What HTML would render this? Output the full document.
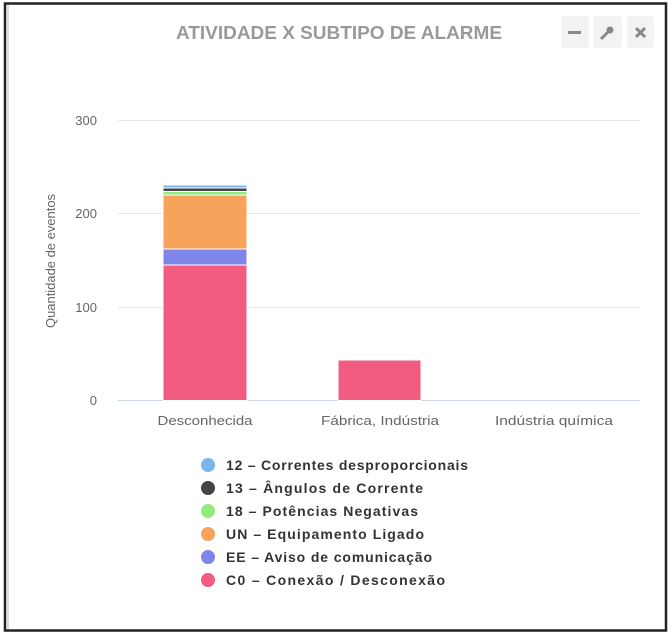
<!DOCTYPE html>
<html><head><meta charset="utf-8"><style>
html,body{margin:0;padding:0;background:#fff;}
svg{display:block;font-family:"Liberation Sans",sans-serif;}
</style></head><body>
<svg width="672" height="636" viewBox="0 0 672 636">
<rect x="0" y="0" width="672" height="636" fill="#fff"/>
<rect x="5" y="3.5" width="661" height="627" fill="none" stroke="#222" stroke-width="2.5"/>
<line x1="8" y1="5" x2="8" y2="629" stroke="#ddd" stroke-width="2"/>
<text x="339" y="39" text-anchor="middle" font-size="18" font-weight="bold" fill="#999" textLength="326" lengthAdjust="spacingAndGlyphs">ATIVIDADE X SUBTIPO DE ALARME</text>
<rect x="561" y="16" width="28" height="32" rx="2" fill="#f3f3f3"/>
<rect x="593" y="16" width="29" height="32" rx="2" fill="#f3f3f3"/>
<rect x="627" y="16" width="27" height="32" rx="2" fill="#f3f3f3"/>
<rect x="568" y="31" width="13" height="3" fill="#888"/>
<path d="M601 39 L608 32" stroke="#888" stroke-width="3"/>
<circle cx="610" cy="30" r="3.5" fill="#888"/>
<path d="M636 28 L645 37 M645 28 L636 37" stroke="#888" stroke-width="3"/>
<g stroke="#e6e6e6" stroke-width="1">
<line x1="118" y1="120.5" x2="640" y2="120.5"/>
<line x1="118" y1="213.5" x2="640" y2="213.5"/>
<line x1="118" y1="307.5" x2="640" y2="307.5"/>
</g>
<line x1="118" y1="400.5" x2="640" y2="400.5" stroke="#ccd6eb"/>
<g font-size="13" fill="#666" text-anchor="end">
<text x="97" y="125">300</text>
<text x="97" y="218">200</text>
<text x="97" y="312">100</text>
<text x="97" y="405">0</text>
</g>
<text transform="translate(55,261) rotate(-90)" text-anchor="middle" font-size="13" fill="#666" textLength="134" lengthAdjust="spacingAndGlyphs">Quantidade de eventos</text>
<g stroke="#fff" stroke-width="1">
<rect x="163" y="265" width="84" height="135.5" fill="#f15c80"/>
<rect x="163" y="249" width="84" height="16" fill="#8085e9"/>
<rect x="163" y="195" width="84" height="54" fill="#f7a35c"/>
<rect x="163" y="191.5" width="84" height="3.5" fill="#90ed7d"/>
<rect x="163" y="188" width="84" height="3.5" fill="#434348"/>
<rect x="163" y="185" width="84" height="3" fill="#7cb5ec"/>
<rect x="338" y="360" width="83" height="40.5" fill="#f15c80"/>
</g>
<g font-size="13" fill="#666" text-anchor="middle">
<text x="205" y="425" textLength="95" lengthAdjust="spacingAndGlyphs">Desconhecida</text>
<text x="380" y="425" textLength="118" lengthAdjust="spacingAndGlyphs">Fábrica, Indústria</text>
<text x="554" y="425" textLength="118" lengthAdjust="spacingAndGlyphs">Indústria química</text>
</g>
<g font-size="14" font-weight="bold" fill="#333" lengthAdjust="spacingAndGlyphs">
<circle cx="208" cy="465" r="7" fill="#7cb5ec"/><text x="226" y="470" textLength="242">12 – Correntes desproporcionais</text>
<circle cx="208" cy="488" r="7" fill="#434348"/><text x="226" y="493" textLength="197">13 – Ângulos de Corrente</text>
<circle cx="208" cy="511" r="7" fill="#90ed7d"/><text x="226" y="516" textLength="192">18 – Potências Negativas</text>
<circle cx="208" cy="534" r="7" fill="#f7a35c"/><text x="226" y="539" textLength="198">UN – Equipamento Ligado</text>
<circle cx="208" cy="557" r="7" fill="#8085e9"/><text x="226" y="562" textLength="206">EE – Aviso de comunicação</text>
<circle cx="208" cy="580" r="7" fill="#f15c80"/><text x="226" y="585" textLength="219">C0 – Conexão / Desconexão</text>
</g>
</svg>
</body></html>
